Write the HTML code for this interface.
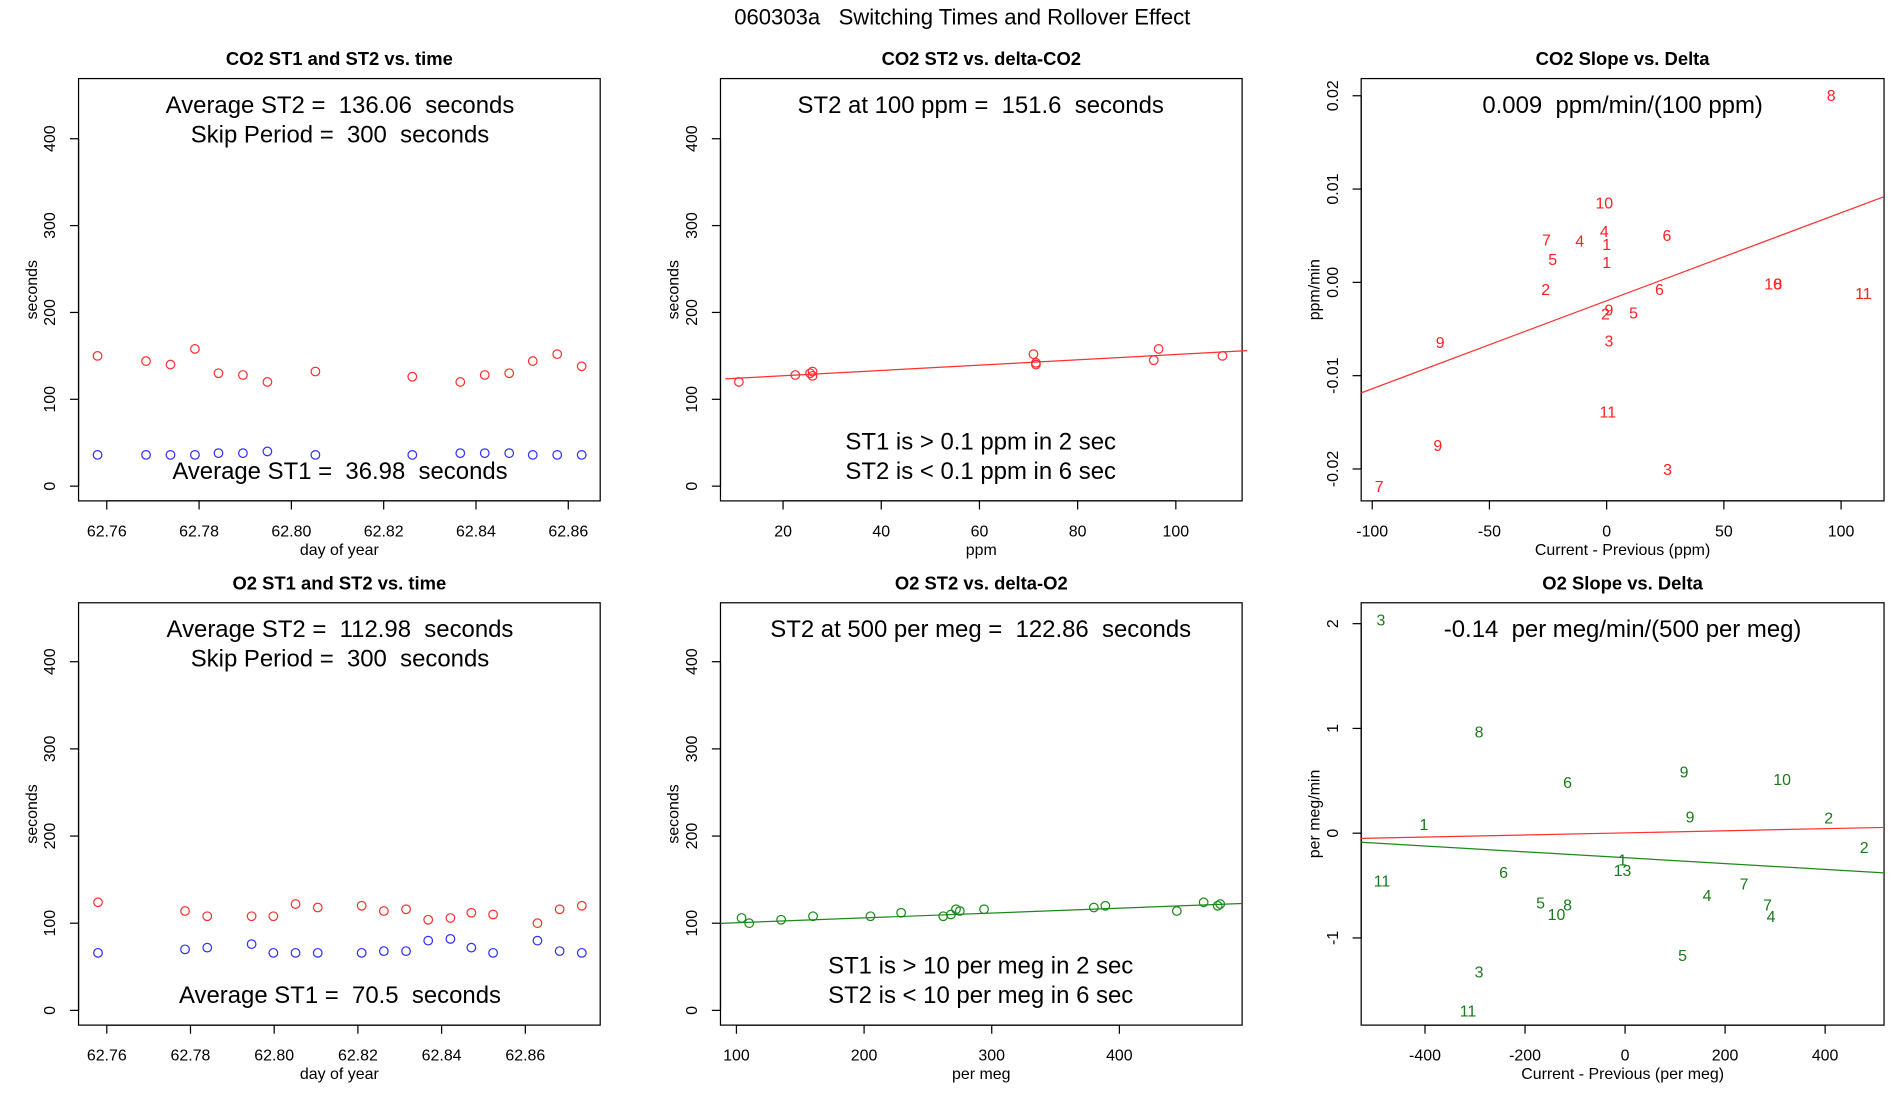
<!DOCTYPE html>
<html><head><meta charset="utf-8"><style>
html,body{margin:0;padding:0;background:#fff}
svg{display:block;font-family:"Liberation Sans",Arial,sans-serif}
text{white-space:pre}
</style></head><body>
<svg id="chart" width="1900" height="1100" viewBox="0 0 1548 896" preserveAspectRatio="none" xmlns="http://www.w3.org/2000/svg" xml:space="preserve">
<text x="784" y="20" font-size="18" text-anchor="middle">060303a   Switching Times and Rollover Effect</text>
</svg>
<script>
// ---- Panel 1: CO2 ST1/ST2 vs time ----
const co2Days=[62.7580,62.7685,62.7738,62.7791,62.7842,62.7895,62.7948,62.8052,62.8262,62.8366,62.8419,62.8472,62.8523,62.8576,62.8629];
const co2ST2=[150,144,140,158,130,128,120,132,126,120,128,130,144,152,138];
const co2ST1=[36,36,36,36,38,38,40,36,36,38,38,38,36,36,36];
const timeTicksCO2=[62.76,62.78,62.80,62.82,62.84,62.86];
// ---- Panel 4: O2 ST1/ST2 vs time ----
const o2Days=[62.7579,62.7787,62.7840,62.7946,62.7998,62.8051,62.8104,62.8209,62.8262,62.8315,62.8368,62.8421,62.8471,62.8523,62.8629,62.8682,62.8735];
const o2ST2=[124,114,108,108,108,122,118,120,114,116,104,106,112,110,100,116,120];
const o2ST1=[66,70,72,76,66,66,66,66,68,68,80,82,72,66,80,68,66];
const timeTicksO2=[62.76,62.78,62.80,62.82,62.84,62.86];
const secTicks=[0,100,200,300,400];
// ---- Panel 2: CO2 ST2 vs delta ----
const co2Delta=[11,22.5,25.5,26,26,71,71.5,71.5,95.5,96.5,109.5];
const co2DeltaST2=[120,128,130,127,132,152,140,142,145,158,150];
const co2Fit=[121,0.306];
const ppmTicks=[20,40,60,80,100];
// ---- Panel 5: O2 ST2 vs delta ----
const o2Delta=[104,110,135,160,205,229,262,268,272,275,294,380,389,445,466,477,479];
const o2DeltaST2=[106,100,104,108,108,112,108,110,116,114,116,118,120,114,124,120,122];
const o2Fit=[95,0.0556];
const megTicks=[100,200,300,400];
// ---- Panel 3: CO2 slope vs delta ----
const co2SlopeLabels=["8","10","4","7","4","1","6","5","1","2","6","10","8","11","2","9","5","9","3","11","9","3","7"];
const co2SlopeX=[95.8,-1,-1,-25.7,-11.5,0,25.7,-23,0,-26,22.5,71,73,109.5,-0.5,1,11.5,-71,1,0.5,-72,26,-97];
const co2SlopeY=[0.0201,0.0086,0.0055,0.0046,0.0045,0.0041,0.0051,0.0025,0.0022,-0.0007,-0.0007,-0.0001,-0.0001,-0.0011,-0.0033,-0.0029,-0.0032,-0.0064,-0.0062,-0.0138,-0.0174,-0.0200,-0.0218];
const co2SlopeFit=[-0.00197,0.0000943];
const co2SlopeXTicks=[-100,-50,0,50,100];
const co2SlopeYTicks=[-0.02,-0.01,0.00,0.01,0.02];
const co2SlopeYTickLabels=["-0.02","-0.01","0.00","0.01","0.02"];
// ---- Panel 6: O2 slope vs delta ----
const o2SlopeLabels=["3","8","9","10","6","9","1","2","2","1","13","6","11","7","4","5","8","10","7","4","5","3","11"];
const o2SlopeX=[-488,-292,118,314,-115,130,-402,407,478,-5,-5,-243,-486,238,164,-169,-115,-137,285,292,115,-292,-314];
const o2SlopeY=[2.04,0.97,0.59,0.52,0.49,0.16,0.09,0.15,-0.13,-0.25,-0.35,-0.37,-0.45,-0.48,-0.59,-0.66,-0.68,-0.77,-0.68,-0.79,-1.16,-1.32,-1.69];
const o2RedFit=[0.003,0.0001];
const o2GreenFit=[-0.234,-0.00028];
const o2SlopeXTicks=[-400,-200,0,200,400];
const o2SlopeYTicks=[-1,0,1,2];

const NS="http://www.w3.org/2000/svg";
const svg=document.getElementById('chart');
function mk(tag,attrs,parent,txt){const e=document.createElementNS(NS,tag);for(const k in attrs)e.setAttribute(k,attrs[k]);if(txt!==undefined)e.textContent=txt;(parent||svg).appendChild(e);return e;}
function lin(d0,d1,p0,p1){return v=>p0+(v-d0)*(p1-p0)/(d1-d0);}

function panel(name,box,title,sx,sy,xt,xtl,yt,ytl,xlab,ylab){
  const g=mk('g',{},svg);
  
  
  const [x0,y0,x1,y1]=box;
  const fr=mk('rect',{x:x0,y:y0,width:x1-x0,height:y1-y0,fill:'none',stroke:'#000','stroke-width':1},g);
  
  
  const t=mk('text',{x:(x0+x1)/2,y:y0-11,'font-size':15,'font-weight':'bold','text-anchor':'middle'},g,title);
  
  
  const xa=mk('g',{},g);
  
  
  mk('line',{x1:sx(xt[0]),x2:sx(xt[xt.length-1]),y1:y1,y2:y1,stroke:'#000'},xa);
  xt.forEach((v,i)=>{const X=sx(v);mk('line',{x1:X,x2:X,y1:y1,y2:y1+7,stroke:'#000'},xa);
    const l=mk('text',{x:X,y:y1+29,'font-size':13,'text-anchor':'middle'},xa,xtl[i]);
    
    });
  const xl=mk('text',{x:(x0+x1)/2,y:y1+44,'font-size':13,'text-anchor':'middle'},g,xlab);
  
  
  const ya=mk('g',{},g);
  
  
  mk('line',{x1:x0,x2:x0,y1:sy(yt[0]),y2:sy(yt[yt.length-1]),stroke:'#000'},ya);
  yt.forEach((v,i)=>{const Y=sy(v);mk('line',{x1:x0,x2:x0-7,y1:Y,y2:Y,stroke:'#000'},ya);
    const l=mk('text',{x:x0-19,y:Y,'font-size':13,'text-anchor':'middle',transform:`rotate(-90 ${x0-19} ${Y})`},ya,ytl[i]);
    
    });
  const yl=mk('text',{x:x0-34,y:(y0+y1)/2,'font-size':13,'text-anchor':'middle',transform:`rotate(-90 ${x0-34} ${(y0+y1)/2})`},g,ylab);
  
  
  return g;
}
function circles(g,xs,ys,sx,sy,col,nm){xs.forEach((v,i)=>{const c=mk('circle',{cx:sx(v),cy:sy(ys[i]),r:3.5,fill:'none',stroke:col,'stroke-width':1},g);
  
  });}
function note(g,x,y,s,nm){const t=mk('text',{x:x,y:y,'font-size':19.5,'text-anchor':'middle'},g,s);
  
  }
function fitLine(g,fit,sx,sy,xa,xb,col,nm){const l=mk('line',{x1:sx(xa),y1:sy(fit[0]+fit[1]*xa),x2:sx(xb),y2:sy(fit[0]+fit[1]*xb),stroke:col,'stroke-width':1},g);
  
  }
function labels(g,labs,xs,ys,sx,sy,col){labs.forEach((s,i)=>{const t=mk('text',{x:sx(xs[i]),y:sy(ys[i])+5,'font-size':13,fill:col,'text-anchor':'middle'},g,s);
  
  });}
const fmt2=v=>v.toFixed(2);

// Panel 1
{const sx=lin(62.76,62.86,87,463),sy=lin(0,400,396,113);
 const g=panel('co2-time-panel',[64,64,489,408],'CO2 ST1 and ST2 vs. time',sx,sy,timeTicksCO2,timeTicksCO2.map(fmt2),secTicks,secTicks.map(String),'day of year','seconds');
 circles(g,co2Days,co2ST2,sx,sy,'#ff3030','st2-point');circles(g,co2Days,co2ST1,sx,sy,'#3030ff','st1-point');
 note(g,277,92,'Average ST2 =  136.06  seconds','average-st2-note');note(g,277,116,'Skip Period =  300  seconds','skip-period-note');note(g,277,390,'Average ST1 =  36.98  seconds','average-st1-note');}
// Panel 4
{const sx=lin(62.76,62.86,87,428),sy=lin(0,400,823,539);
 const g=panel('o2-time-panel',[64,491,489,835],'O2 ST1 and ST2 vs. time',sx,sy,timeTicksO2,timeTicksO2.map(fmt2),secTicks,secTicks.map(String),'day of year','seconds');
 circles(g,o2Days,o2ST2,sx,sy,'#ff3030','st2-point');circles(g,o2Days,o2ST1,sx,sy,'#3030ff','st1-point');
 note(g,277,519,'Average ST2 =  112.98  seconds','average-st2-note');note(g,277,543,'Skip Period =  300  seconds','skip-period-note');note(g,277,817,'Average ST1 =  70.5  seconds','average-st1-note');}
// Panel 2
{const sx=lin(20,100,638,958),sy=lin(0,400,396,113);
 const g=panel('co2-delta-panel',[587,64,1012,408],'CO2 ST2 vs. delta-CO2',sx,sy,ppmTicks,ppmTicks.map(String),secTicks,secTicks.map(String),'ppm','seconds');
 fitLine(g,co2Fit,sx,sy,8.25,114.5,'#ff3030','fit-line');
 circles(g,co2Delta,co2DeltaST2,sx,sy,'#ff3030','st2-point');
 note(g,799,92,'ST2 at 100 ppm =  151.6  seconds','st2-at-100-note');note(g,799,366,'ST1 is > 0.1 ppm in 2 sec','st1-threshold-note');note(g,799,390,'ST2 is < 0.1 ppm in 6 sec','st2-threshold-note');}
// Panel 5
{const sx=lin(100,400,600,912),sy=lin(0,400,823,539);
 const g=panel('o2-delta-panel',[587,491,1012,835],'O2 ST2 vs. delta-O2',sx,sy,megTicks,megTicks.map(String),secTicks,secTicks.map(String),'per meg','seconds');
 fitLine(g,o2Fit,sx,sy,87.5,496,'#1a8a1a','fit-line');
 circles(g,o2Delta,o2DeltaST2,sx,sy,'#1a8a1a','st2-point');
 note(g,799,519,'ST2 at 500 per meg =  122.86  seconds','st2-at-500-note');note(g,799,793,'ST1 is > 10 per meg in 2 sec','st1-threshold-note');note(g,799,817,'ST2 is < 10 per meg in 6 sec','st2-threshold-note');}
// Panel 3
{const sx=lin(-100,100,1118,1500),sy=lin(-0.02,0.02,382,78);
 const g=panel('co2-slope-panel',[1109,64,1535,408],'CO2 Slope vs. Delta',sx,sy,co2SlopeXTicks,co2SlopeXTicks.map(String),co2SlopeYTicks,co2SlopeYTickLabels,'Current - Previous (ppm)','ppm/min');
 fitLine(g,co2SlopeFit,sx,sy,-104.7,118.3,'#ff3030','fit-line');
 labels(g,co2SlopeLabels,co2SlopeX,co2SlopeY,sx,sy,'#ff2020');
 note(g,1322,92,'0.009  ppm/min/(100 ppm)','slope-note');}
// Panel 6
{const sx=lin(-400,400,1161,1487),sy=lin(-1,2,764,508);
 const g=panel('o2-slope-panel',[1109,491,1535,835],'O2 Slope vs. Delta',sx,sy,o2SlopeXTicks,o2SlopeXTicks.map(String),o2SlopeYTicks,o2SlopeYTicks.map(String),'Current - Previous (per meg)','per meg/min');
 fitLine(g,o2RedFit,sx,sy,-527.6,517.8,'#ff3030','red-fit-line');
 fitLine(g,o2GreenFit,sx,sy,-527.6,517.8,'#1a8a1a','green-fit-line');
 labels(g,o2SlopeLabels,o2SlopeX,o2SlopeY,sx,sy,'#1a7a1a');
 note(g,1322,519,'-0.14  per meg/min/(500 per meg)','slope-note');}
</script>
</body></html>
